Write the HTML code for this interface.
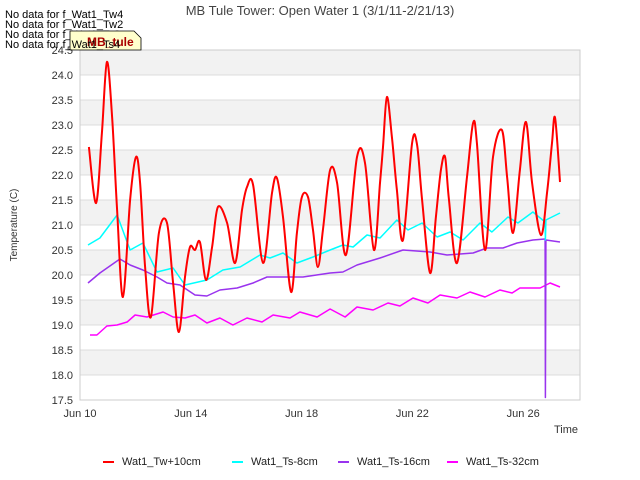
<!DOCTYPE html>
<html><head><meta charset="utf-8"><style>
body{margin:0;background:#fff;}
svg{display:block;font-family:"Liberation Sans","DejaVu Sans",sans-serif;}
</style></head><body>
<svg id="chart" width="640" height="480">
<g id="bands"></g>
<g id="grid"></g>
<rect x="80" y="50" width="500" height="350" fill="none" stroke="#ccc"/>
<g id="yticks" font-size="11" fill="#333" text-anchor="end"></g>
<g id="xticks" font-size="11" fill="#333" text-anchor="middle"></g>
<g id="series"></g>
<text x="320" y="15" font-size="13" fill="#444" text-anchor="middle">MB Tule Tower: Open Water 1 (3/1/11-2/21/13)</text>
<text x="578" y="433" font-size="11" fill="#333" text-anchor="end">Time</text>
<text x="17" y="225" font-size="10" fill="#333" text-anchor="middle" transform="rotate(-90 17 225)">Temperature (C)</text>
<g font-size="11" fill="#000">
<text x="5" y="18">No data for f_Wat1_Tw4</text>
<text x="5" y="28">No data for f_Wat1_Tw2</text>
<text x="5" y="38">No data for f_Wat1_Ts2</text>
</g>
<g>
<path d="M70 31 L134 31 L141 38 L141 50 L70 50 Z" fill="#ffffcc" stroke="#000" stroke-width="0.8"/>
<text x="87" y="46" font-size="12" font-weight="bold" fill="#a00">MB_tule</text>
</g>
<text x="5" y="48" font-size="11" fill="#000">No data for f_Wat1_Ts4</text>
<g id="legend" font-size="11" fill="#222"></g>
</svg>
<script>
const xTickLabels=["Jun 10","Jun 14","Jun 18","Jun 22","Jun 26"];
const xTickDays=[0,4,8,12,16];
const yTicks=[17.5,18.0,18.5,19.0,19.5,20.0,20.5,21.0,21.5,22.0,22.5,23.0,23.5,24.0,24.5];
const seriesNames=["Wat1_Tw+10cm","Wat1_Ts-8cm","Wat1_Ts-16cm","Wat1_Ts-32cm"];
const seriesColors=["#ff0000","#00ffff","#9933ee","#ff00ff"];
const redDays=[.32,.58,.79,.97,1.16,1.34,1.55,1.81,2.02,2.17,2.35,2.56,2.85,3.14,3.36,3.57,3.79,3.97,4.15,4.33,4.55,4.77,4.98,5.31,5.6,5.85,6.03,6.25,6.61,6.93,7.11,7.33,7.62,7.83,8.01,8.23,8.41,8.59,8.77,9.03,9.28,9.6,10.0,10.29,10.61,10.83,10.94,11.08,11.26,11.44,11.66,11.99,12.17,12.35,12.64,12.85,13.03,13.18,13.32,13.61,13.97,14.19,14.33,14.62,14.91,15.23,15.42,15.63,15.88,16.1,16.32,16.64,16.86,17.04,17.15,17.33];
const redVals=[22.56,21.44,22.84,24.26,23.16,21.3,19.56,21.5,22.36,21.84,20.16,19.16,20.84,21.04,19.84,18.86,19.96,20.56,20.5,20.66,19.9,20.56,21.36,21.04,20.24,21.3,21.76,21.8,20.24,21.64,21.94,21.16,19.66,20.84,21.56,21.56,20.9,20.16,20.9,22.1,21.84,20.4,22.36,22.24,20.5,21.84,22.56,23.56,22.76,21.7,20.7,22.64,22.6,21.5,20.04,21.16,22.1,22.36,21.5,20.24,21.96,23.04,22.64,20.5,22.36,22.9,21.96,20.84,22.1,23.06,21.84,20.8,21.64,22.64,23.14,21.86];
const cyanDays=[.29,.72,1.34,1.81,2.27,2.78,3.36,3.79,4.58,5.16,5.78,6.5,6.86,7.33,7.83,8.41,9.03,9.49,9.86,10.36,10.83,11.44,11.84,12.35,12.89,13.36,13.83,14.44,14.87,15.45,15.81,16.35,16.79,16.8,16.82,17.33];
const cyanVals=[20.6,20.74,21.2,20.5,20.64,20.06,20.14,19.8,19.9,20.1,20.16,20.4,20.34,20.44,20.24,20.36,20.5,20.6,20.56,20.8,20.74,21.1,20.9,21.04,20.76,20.86,20.7,21.04,20.86,21.16,21.04,21.26,21.06,20.7,21.1,21.24];
const purpleDays=[.29,.72,1.44,1.81,2.27,2.78,3.14,3.61,4.15,4.58,5.05,5.67,6.25,6.75,7.47,8.05,9.03,9.49,10.0,10.83,11.66,12.64,13.25,14.19,14.69,15.27,15.78,16.35,16.79,16.8,16.82,17.33];
const purpleVals=[19.84,20.04,20.32,20.2,20.1,19.96,19.84,19.8,19.6,19.58,19.7,19.74,19.84,19.96,19.96,19.96,20.04,20.06,20.2,20.34,20.5,20.46,20.4,20.44,20.54,20.54,20.64,20.7,20.72,17.55,20.7,20.66];
const magentaDays=[.36,.61,.97,1.34,1.7,1.99,2.42,3.0,3.36,3.79,4.15,4.58,5.05,5.52,6.03,6.57,6.97,7.58,7.94,8.56,9.03,9.57,10.0,10.58,11.12,11.55,12.02,12.56,13.0,13.61,14.08,14.62,15.16,15.6,15.88,16.61,16.97,17.33];
const magentaVals=[18.8,18.8,18.98,19.0,19.06,19.2,19.16,19.26,19.16,19.14,19.2,19.04,19.14,19.0,19.14,19.06,19.2,19.14,19.26,19.16,19.32,19.16,19.36,19.3,19.44,19.38,19.54,19.44,19.6,19.54,19.66,19.56,19.7,19.64,19.74,19.74,19.84,19.76];

const NS="http://www.w3.org/2000/svg";
const X0=80,X1=580,Y0=50,Y1=400,DMIN=0,DMAX=500/27.7,VMIN=17.5,VMAX=24.5;
function xs(d){return X0+(d-DMIN)/(DMAX-DMIN)*(X1-X0);}
function ys(v){return Y1-(v-VMIN)/(VMAX-VMIN)*(Y1-Y0);}
function mk(tag,attrs,parent){const e=document.createElementNS(NS,tag);for(const k in attrs)e.setAttribute(k,attrs[k]);parent.appendChild(e);return e;}
function smoothPath(P){
  let d='M'+P[0][0].toFixed(1)+','+P[0][1].toFixed(1);
  for(let i=0;i<P.length-1;i++){
    const p0=P[i-1]||P[i],p1=P[i],p2=P[i+1],p3=P[i+2]||p2;
    const c1=[p1[0]+(p2[0]-p0[0])/6,p1[1]+(p2[1]-p0[1])/6];
    const c2=[p2[0]-(p3[0]-p1[0])/6,p2[1]-(p3[1]-p1[1])/6];
    d+=' C'+c1[0].toFixed(1)+','+c1[1].toFixed(1)+' '+c2[0].toFixed(1)+','+c2[1].toFixed(1)+' '+p2[0].toFixed(1)+','+p2[1].toFixed(1);
  }
  return d;
}

const bands=document.getElementById('bands'),grid=document.getElementById('grid');
for(let v=17.5;v<24.5;v+=0.5){
  const isGray=Math.abs(v-Math.floor(v))<0.01 && v>=18;
  if(isGray){const r=mk('rect',{x:X0,y:ys(v+0.5),width:X1-X0,height:ys(v)-ys(v+0.5),fill:'#f2f2f2'},bands);
  
  }
}
const yt=document.getElementById('yticks');
yTicks.forEach(v=>{
  const l=mk('line',{x1:X0,x2:X1,y1:ys(v),y2:ys(v),stroke:'#dcdcdc','stroke-width':1},grid);
  
  
  const t=mk('text',{x:73,y:ys(v)+4},yt);t.textContent=v.toFixed(1);
  
  
});
const xt=document.getElementById('xticks');
xTickDays.forEach((d,i)=>{
  const t=mk('text',{x:xs(d),y:417},xt);t.textContent=xTickLabels[i];
  
  
});
const sg=document.getElementById('series');
const allDays=[redDays,cyanDays,purpleDays,magentaDays],allVals=[redVals,cyanVals,purpleVals,magentaVals];
const widths=[2,1.5,1.5,1.5];
[3,2,1,0].forEach(i=>{
  const P=allDays[i].map((d,j)=>[xs(d),ys(allVals[i][j])]);
  let p;
  if(i===0){
    p=mk('path',{d:smoothPath(P),fill:'none',stroke:seriesColors[i],'stroke-width':widths[i],'stroke-linejoin':'round'},sg);
  } else {
    const pts=P.map(q=>q[0].toFixed(1)+','+q[1].toFixed(1)).join(' ');
    p=mk('polyline',{points:pts,fill:'none',stroke:seriesColors[i],'stroke-width':widths[i],'stroke-linejoin':'round'},sg);
  }
  
  
});
const lg=document.getElementById('legend');
const lx=[103,232,338,447];
seriesNames.forEach((n,i)=>{
  const l=mk('line',{x1:lx[i],x2:lx[i]+11,y1:462,y2:462,stroke:seriesColors[i],'stroke-width':2},lg);
  
  
  const t=mk('text',{x:lx[i]+19,y:465},lg);t.textContent=n;
  
  
});
</script>
</body></html>
